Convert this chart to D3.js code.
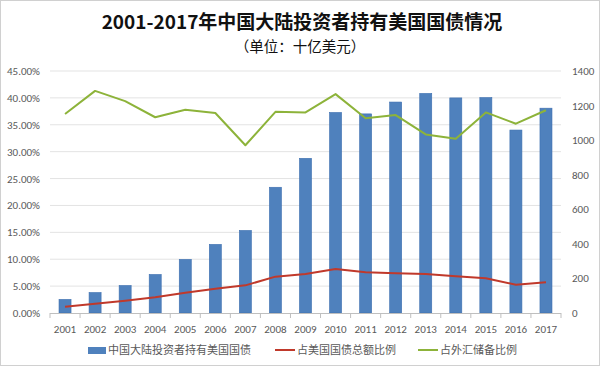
<!DOCTYPE html>
<html><head><meta charset="utf-8">
<script src="https://cdn.jsdelivr.net/npm/d3@7"></script>
<style>
html,body{margin:0;padding:0;background:#fff;}
svg{display:block;}
</style></head>
<body>
<svg id="c" width="600" height="366"></svg>
<script>
const years = ["2001","2002","2003","2004","2005","2006","2007","2008","2009","2010","2011","2012","2013","2014","2015","2016","2017"];
const holdings = [78.6,118.4,159,222.9,310,396.9,477.6,727.4,894.8,1160.1,1151.9,1220.4,1270.3,1244.3,1246.1,1058.4,1184.9];
const shareOfUST = [1.17,1.73,2.29,2.91,3.78,4.52,5.14,6.76,7.25,8.18,7.56,7.38,7.25,6.82,6.45,5.27,5.70];
const shareOfReserves = [37.0,41.3,39.4,36.4,37.8,37.2,31.2,37.4,37.3,40.7,36.2,36.8,33.2,32.4,37.3,35.2,37.7];
const leftTicks = [0,5,10,15,20,25,30,35,40,45];
const rightTicks = [0,200,400,600,800,1000,1200,1400];
const legendLabels = ["中国大陆投资者持有美国国债","占美国国债总额比例","占外汇储备比例"];
const title = "2001-2017年中国大陆投资者持有美国国债情况";
const subtitle = "（单位：十亿美元）";

const colors = {bar:"#4f81bd", red:"#c0392b", green:"#8db33a", grid:"#e3e3e3", text:"#595959"};
const svg = d3.select("#c");
const W = 600, H = 366;
const m = {left:50, right:39, top:71, bottom:53};
const x0 = m.left, x1 = W - m.right, yTop = m.top, yBot = H - m.bottom;

svg.append("rect").attr("x",0.5).attr("y",0.5).attr("width",W-1).attr("height",H-1)
  .attr("fill","#fff").attr("stroke","#d0d0d0");

const x = d3.scaleBand().domain(years).range([x0,x1]).paddingInner(0.6).paddingOuter(0.3);
const xb = d3.scaleBand().domain(years).range([x0,x1]);
const yL = d3.scaleLinear().domain([0,45]).range([yBot,yTop]);
const yR = d3.scaleLinear().domain([0,1400]).range([yBot,yTop]);

// gridlines
svg.append("g").selectAll("line").data(leftTicks.slice(1)).join("line")
  .attr("x1",x0).attr("x2",x1).attr("y1",d=>yL(d)).attr("y2",d=>yL(d))
  .attr("stroke",colors.grid).attr("stroke-width",1);

// left axis
const fontNum = "Carlito, Lato, 'Liberation Sans', sans-serif";
const gL = svg.append("g").attr("transform",`translate(${x0},0)`)
  .call(d3.axisLeft(yL).tickValues(leftTicks).tickFormat(d=>d.toFixed(2)+"%").tickSize(0).tickPadding(10));
gL.select(".domain").remove();
gL.selectAll("text").attr("font-family",fontNum).attr("font-size",11).attr("fill",colors.text);

// right axis
const gR = svg.append("g").attr("transform",`translate(${x1},0)`)
  .call(d3.axisRight(yR).tickValues(rightTicks).tickFormat(d=>String(d)).tickSize(0).tickPadding(11));
gR.select(".domain").remove();
gR.selectAll("text").attr("font-family",fontNum).attr("font-size",11).attr("fill",colors.text);

// bars
svg.append("g").selectAll("rect").data(years).join("rect")
  .attr("x",(d)=>x(d)).attr("width",x.bandwidth())
  .attr("y",(d,i)=>yR(holdings[i])).attr("height",(d,i)=>yBot-yR(holdings[i]))
  .attr("fill",colors.bar).attr("stroke","#3d6fb0").attr("stroke-width",0.6);

// bottom axis
svg.append("line").attr("x1",x0).attr("x2",x1).attr("y1",yBot+0.5).attr("y2",yBot+0.5).attr("stroke","#bfbfbf");
svg.append("g").selectAll("line").data(d3.range(years.length+1)).join("line")
  .attr("x1",i=>x0+i*xb.step()).attr("x2",i=>x0+i*xb.step())
  .attr("y1",yBot).attr("y2",yBot+5).attr("stroke","#bfbfbf");
svg.append("g").selectAll("text").data(years).join("text")
  .attr("x",d=>xb(d)+xb.bandwidth()/2).attr("y",yBot+20)
  .attr("text-anchor","middle").attr("font-family",fontNum).attr("font-size",11).attr("fill",colors.text)
  .text(d=>d);

// lines
const cx = d => xb(d)+xb.bandwidth()/2;
const lineL = d3.line().x((d,i)=>cx(years[i])).y(d=>yL(d));
svg.append("path").datum(shareOfUST).attr("d",lineL).attr("fill","none")
  .attr("stroke",colors.red).attr("stroke-width",2).attr("stroke-linejoin","round");
svg.append("path").datum(shareOfReserves).attr("d",lineL).attr("fill","none")
  .attr("stroke",colors.green).attr("stroke-width",2).attr("stroke-linejoin","round");

// titles
svg.append("text").attr("x",302).attr("y",29).attr("text-anchor","middle")
  .attr("font-family","'Noto Sans CJK SC', sans-serif").attr("font-weight","bold").attr("font-size",19).attr("fill","#111")
  .text(title);
svg.append("text").attr("x",300).attr("y",52).attr("text-anchor","middle")
  .attr("font-family","'Noto Sans CJK SC', sans-serif").attr("font-size",14.5).attr("fill","#111")
  .text(subtitle);

// legend
const lg = svg.append("g").attr("font-family","'Noto Sans CJK SC', sans-serif").attr("font-size",11).attr("fill",colors.text);
const ly = 350;
lg.append("rect").attr("x",88).attr("y",ly-3).attr("width",18).attr("height",7).attr("fill",colors.bar);
lg.append("text").attr("x",108).attr("y",ly+4).text(legendLabels[0]);
lg.append("line").attr("x1",275).attr("x2",295).attr("y1",ly).attr("y2",ly).attr("stroke",colors.red).attr("stroke-width",2);
lg.append("text").attr("x",297).attr("y",ly+4).text(legendLabels[1]);
lg.append("line").attr("x1",418).attr("x2",438).attr("y1",ly).attr("y2",ly).attr("stroke",colors.green).attr("stroke-width",2);
lg.append("text").attr("x",440).attr("y",ly+4).text(legendLabels[2]);
</script>
</body></html>
